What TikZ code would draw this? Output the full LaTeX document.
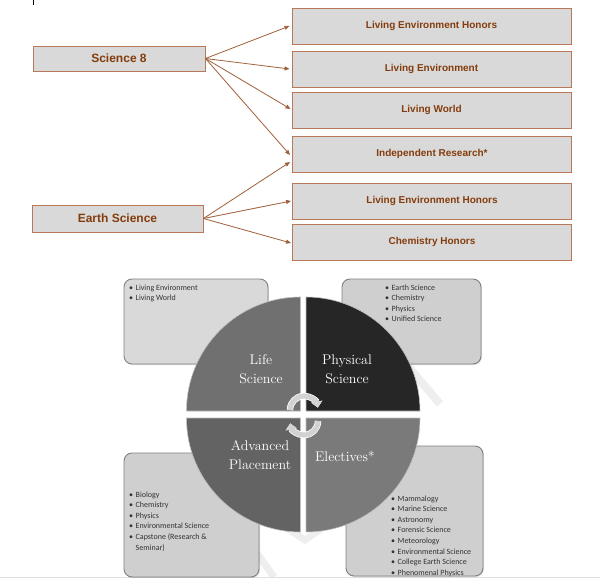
\documentclass[tikz,border=0pt]{standalone}
\usepackage{fontspec}
\newfontfamily\arialfont{Liberation Sans}
\newfontfamily\bulletfont{Carlito}
\usetikzlibrary{arrows.meta,shadows}
\definecolor{boxfill}{HTML}{D9D9D9}
\definecolor{boxedge}{HTML}{B8795A}
\definecolor{txtbrown}{HTML}{843C0C}
\definecolor{arr}{HTML}{A0603A}
\definecolor{qLS}{HTML}{707070}
\definecolor{qPS}{HTML}{262626}
\definecolor{qAP}{HTML}{636363}
\definecolor{qEL}{HTML}{7A7A7A}
\definecolor{panelA}{HTML}{D9D9D9}
\definecolor{panelB}{HTML}{CFCFCF}
\definecolor{paneledge}{HTML}{808080}
\definecolor{arcgray}{HTML}{D2D2D2}
\definecolor{faint}{HTML}{EEEEEE}
\tikzset{
  topbox/.style={draw=boxedge, fill=boxfill, line width=0.9pt, inner sep=0pt, text=txtbrown},
  lbox/.style={topbox, font=\arialfont\bfseries\fontsize{12}{14}\selectfont},
  rbox/.style={topbox, minimum width=279pt, minimum height=36pt, font=\arialfont\bfseries\fontsize{10}{12}\selectfont},
  conn/.style={draw=arr, line width=0.8pt, -{Triangle[length=5pt,width=4pt]}},
  panel/.style={draw=paneledge, line width=0.9pt, rounded corners=8pt, inner sep=0pt,
     drop shadow={opacity=0.25, shadow xshift=1pt, shadow yshift=-1pt}},
  blist/.style={anchor=base west, inner sep=0pt, text=black!80, font=\bulletfont\fontsize{8}{10.6}\selectfont},
  quad/.style={draw=white!75!black, line width=0.6pt},
  qtext/.style={text=white, align=center, font=\fontsize{14}{19}\selectfont},
  cyc/.style={draw=arcgray, line width=5pt, -{Triangle[length=6pt,width=11pt]},
     preaction={draw=white, line width=6.5pt}},
}
\begin{document}
\begin{tikzpicture}[x=1pt,y=-1pt]
\useasboundingbox[fill=white] (0,0) rectangle (600,578);
\draw[black, line width=0.6pt] (33,0) -- (33,5.5);

% faint background bands
\draw[faint, line width=8pt] (396,352) -- (440,404);
\draw[faint, line width=7pt] (256,552) -- (274,577);
\draw[faint, line width=7pt] (282,525) -- (305,540) -- (325,526);
\draw[black!12, line width=0.6pt] (0,577) -- (600,577);

% top flow chart
\node[lbox, minimum width=172pt, minimum height=25pt] (s8) at (119,58.5) {Science 8};
\node[lbox, minimum width=171pt, minimum height=27pt] (es) at (117.5,218.5) {Earth Science};
\node[rbox] (leh) at (431.5,26) {Living Environment Honors};
\node[rbox] (le)  at (431.5,69) {Living Environment};
\node[rbox] (lw)  at (431.5,110) {Living World};
\node[rbox] (ir)  at (432,154) {Independent Research*};
\node[rbox] (leh2) at (432,201) {Living Environment Honors};
\node[rbox] (ch)  at (432,242) {Chemistry Honors};

\draw[conn] (s8.east) -- ([xshift=-2pt]leh.west);
\draw[conn] (s8.east) -- ([xshift=-2pt]le.west);
\draw[conn] (s8.east) -- ([xshift=-1pt,yshift=1pt]lw.west);
\draw[conn] (s8.east) -- ([xshift=-2pt,yshift=-1pt]ir.west);
\draw[conn] (es.east) -- ([xshift=-2pt,yshift=-8pt]ir.west);
\draw[conn] (es.east) -- ([xshift=-1pt]leh2.west);
\draw[conn] (es.east) -- ([xshift=-1pt,yshift=-1pt]ch.west);

% panels
\node[panel, fill=panelA, minimum width=144pt, minimum height=85pt] (pTL) at (196,321.5) {};
\node[panel, fill=panelB, minimum width=139pt, minimum height=85pt] (pTR) at (411.5,321.5) {};
\node[panel, fill=panelB, minimum width=135pt, minimum height=124pt] (pBL) at (191.5,515) {};
\node[panel, fill=panelB, minimum width=137pt, minimum height=130pt] (pBR) at (414.5,511) {};

\node[blist] (lTL) at (129,290) {\begin{tabular}[t]{@{}l@{\hspace{2.5pt}}l@{}}
\textbullet & Living Environment\\ \textbullet & Living World\end{tabular}};
\node[blist] (lTR) at (385,290) {\begin{tabular}[t]{@{}l@{\hspace{2.5pt}}l@{}}
\textbullet & Earth Science\\ \textbullet & Chemistry\\ \textbullet & Physics\\ \textbullet & Unified Science\end{tabular}};
\node[blist] (lBL) at (129,497) {\begin{tabular}[t]{@{}l@{\hspace{2.5pt}}l@{}}
\textbullet & Biology\\ \textbullet & Chemistry\\ \textbullet & Physics\\ \textbullet & Environmental Science\\ \textbullet & Capstone (Research \&\\ & Seminar)\end{tabular}};
\node[blist] (lBR) at (391,501) {\begin{tabular}[t]{@{}l@{\hspace{2.5pt}}l@{}}
\textbullet & Mammalogy\\ \textbullet & Marine Science\\ \textbullet & Astronomy\\ \textbullet & Forensic Science\\ \textbullet & Meteorology\\ \textbullet & Environmental Science\\ \textbullet & College Earth Science\\ \textbullet & Phenomenal Physics\end{tabular}};

% quadrants
\filldraw[quad, fill=qLS] (300.5,411) -- ++(180:114) arc[start angle=180, end angle=270, radius=114] -- cycle;
\filldraw[quad, fill=qPS] (306,411) -- ++(270:114) arc[start angle=270, end angle=360, radius=114] -- cycle;
\filldraw[quad, fill=qAP] (300.5,418) -- ++(90:114) arc[start angle=90, end angle=180, radius=114] -- cycle;
\filldraw[quad, fill=qEL] (306,418) -- ++(0:114) arc[start angle=0, end angle=90, radius=114] -- cycle;

% cycle arrows
\draw[cyc] (304,410) ++(180:14) arc[start angle=180, end angle=350, radius=14];
\draw[cyc] (304,421) ++(0:14) arc[start angle=0, end angle=170, radius=14];

% quadrant labels
\node[qtext] (tLS) at (261,369) {Life\\Science};
\node[qtext] (tPS) at (347,369) {Physical\\Science};
\node[qtext] (tAP) at (260,455.5) {Advanced\\Placement};
\node[qtext] (tEL) at (345,456) {Electives*};
\end{tikzpicture}
\end{document}
